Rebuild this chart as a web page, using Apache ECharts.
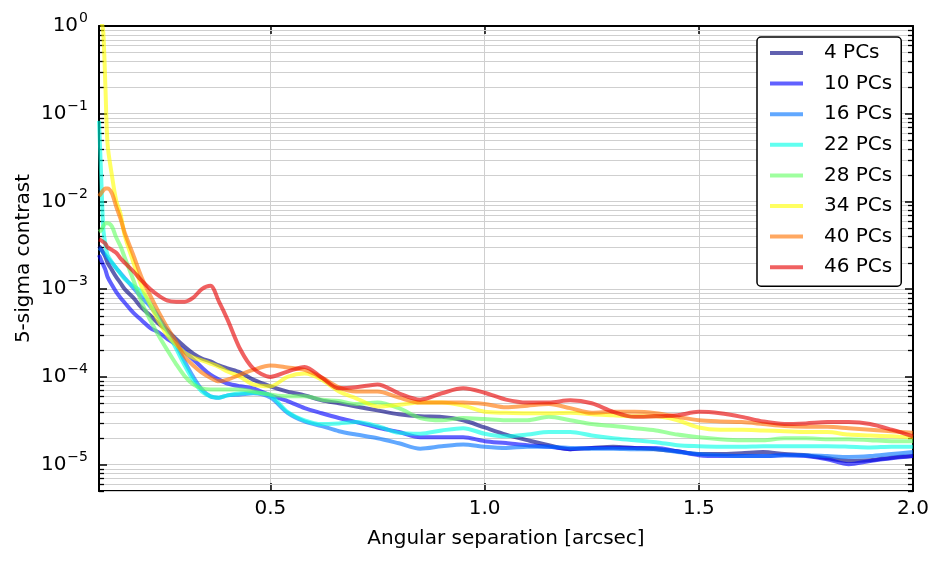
<!DOCTYPE html>
<html>
<head>
<meta charset="utf-8">
<title>5-sigma contrast</title>
<script src="https://cdn.jsdelivr.net/npm/echarts@6.0.0/dist/echarts.min.js"></script>
<style>
  html, body { margin: 0; padding: 0; background: #fff; }
  #chart { width: 946px; height: 566px; }
</style>
</head>
<body>
<div id="chart"></div>
<script>
// angular separation [arcsec]
const sep = [0.1, 0.105, 0.11, 0.115, 0.12, 0.13, 0.14, 0.15, 0.16,
  0.18, 0.2, 0.22, 0.24, 0.26, 0.28, 0.3, 0.32, 0.34, 0.36, 0.38, 0.4,
  0.43, 0.46,
  0.5, 0.54, 0.58, 0.62, 0.66,
  0.7, 0.75, 0.8, 0.85, 0.9, 0.95, 1.0,
  1.05, 1.1, 1.15, 1.2, 1.25, 1.3, 1.35, 1.4, 1.45, 1.5,
  1.55, 1.6, 1.65, 1.7, 1.75, 1.8, 1.85, 1.9, 1.95, 2.0]

const pc4 = [3.1e-3, 2.87e-3, 2.6e-3, 2.33e-3, 2.0e-3, 1.66e-3, 1.38e-3, 1.18e-3, 1.0e-3,
  8.0e-4, 6.1e-4, 5.0e-4, 4.0e-4, 3.36e-4, 2.7e-4, 2.2e-4, 1.84e-4, 1.62e-4, 1.5e-4, 1.35e-4, 1.25e-4,
  1.12e-4, 9.3e-5,
  7.8e-5, 6.8e-5, 6.15e-5, 5.4e-5, 5.0e-5,
  4.6e-5, 4.15e-5, 3.75e-5, 3.55e-5, 3.5e-5, 3.2e-5, 2.65e-5,
  2.2e-5, 1.9e-5, 1.66e-5, 1.5e-5, 1.55e-5, 1.6e-5, 1.55e-5, 1.5e-5, 1.42e-5, 1.32e-5,
  1.32e-5, 1.35e-5, 1.39e-5, 1.32e-5, 1.28e-5, 1.18e-5, 1.1e-5, 1.12e-5, 1.2e-5, 1.25e-5]

const pc10 = [2.45e-3, 2.15e-3, 1.89e-3, 1.66e-3, 1.38e-3, 1.12e-3, 9.3e-4, 8.0e-4, 7.0e-4,
  5.4e-4, 4.4e-4, 3.6e-4, 3.2e-4, 2.7e-4, 2.33e-4, 1.94e-4, 1.58e-4, 1.28e-4, 1.06e-4, 9.3e-5, 8.4e-5,
  7.8e-5, 7.4e-5,
  6.15e-5, 5.3e-5, 4.4e-5, 3.85e-5, 3.4e-5,
  3.05e-5, 2.65e-5, 2.35e-5, 2.05e-5, 2.05e-5, 2.05e-5, 1.85e-5,
  1.76e-5, 1.66e-5, 1.6e-5, 1.5e-5, 1.55e-5, 1.55e-5, 1.55e-5, 1.55e-5, 1.42e-5, 1.28e-5,
  1.25e-5, 1.25e-5, 1.25e-5, 1.28e-5, 1.25e-5, 1.15e-5, 1.01e-5, 1.1e-5, 1.18e-5, 1.25e-5]

const pc16 = [2.95e-3, 2.8e-3, 2.6e-3, 2.45e-3, 2.27e-3, 2.0e-3, 1.74e-3, 1.53e-3, 1.34e-3,
  1.03e-3, 8.0e-4, 6.3e-4, 4.7e-4, 3.36e-4, 2.33e-4, 1.5e-4, 1.0e-4, 7.2e-5, 6.0e-5, 5.8e-5, 6.15e-5,
  6.3e-5, 6.5e-5,
  5.8e-5, 3.9e-5, 3.1e-5, 2.75e-5, 2.4e-5,
  2.2e-5, 2.0e-5, 1.75e-5, 1.52e-5, 1.62e-5, 1.7e-5, 1.6e-5,
  1.55e-5, 1.6e-5, 1.6e-5, 1.55e-5, 1.52e-5, 1.52e-5, 1.5e-5, 1.5e-5, 1.39e-5, 1.32e-5,
  1.28e-5, 1.25e-5, 1.25e-5, 1.28e-5, 1.28e-5, 1.25e-5, 1.22e-5, 1.25e-5, 1.32e-5, 1.39e-5]

const pc22 = [0.083, 0.02, 4.9e-3, 3.2e-3, 2.45e-3, 2.04e-3, 1.74e-3, 1.5e-3, 1.3e-3,
  1.09e-3, 9.3e-4, 6.8e-4, 4.7e-4, 3.2e-4, 2.1e-4, 1.35e-4, 9.1e-5, 6.8e-5, 6.0e-5, 5.8e-5, 6.15e-5,
  6.5e-5, 6.6e-5,
  6.15e-5, 4.0e-5, 3.2e-5, 2.9e-5, 2.95e-5,
  3.05e-5, 2.75e-5, 2.3e-5, 2.25e-5, 2.45e-5, 2.6e-5, 2.25e-5,
  2.1e-5, 2.2e-5, 2.35e-5, 2.35e-5, 2.15e-5, 2.0e-5, 1.9e-5, 1.8e-5, 1.66e-5, 1.62e-5,
  1.6e-5, 1.6e-5, 1.62e-5, 1.62e-5, 1.62e-5, 1.62e-5, 1.6e-5, 1.57e-5, 1.6e-5, 1.6e-5]

const pc28 = [4.5e-3, 4.7e-3, 5.2e-3, 5.65e-3, 5.65e-3, 5.2e-3, 3.9e-3, 3.1e-3, 2.3e-3,
  1.28e-3, 7.0e-4, 4.4e-4, 2.9e-4, 2.0e-4, 1.4e-4, 1.02e-4, 8.2e-5, 7.4e-5, 7.2e-5, 7.2e-5, 7.2e-5,
  7.2e-5, 6.8e-5,
  6.3e-5, 6.0e-5, 6.0e-5, 5.5e-5, 5.3e-5,
  4.9e-5, 5.1e-5, 4.4e-5, 3.4e-5, 3.2e-5, 3.4e-5, 3.3e-5,
  3.2e-5, 3.2e-5, 3.5e-5, 3.2e-5, 2.9e-5, 2.75e-5, 2.6e-5, 2.45e-5, 2.2e-5, 2.05e-5,
  1.95e-5, 1.9e-5, 1.9e-5, 2.0e-5, 2.0e-5, 1.95e-5, 1.95e-5, 1.9e-5, 1.85e-5, 1.85e-5]

const pc34 = [2.0, 1.2, 0.85, 0.2, 0.045, 0.02, 0.0103, 7.3e-3, 4.1e-3,
  2.04e-3, 1.06e-3, 6.6e-4, 4.25e-4, 2.95e-4, 2.33e-4, 1.89e-4, 1.66e-4, 1.54e-4, 1.42e-4, 1.3e-4, 1.15e-4,
  1.0e-4, 8.2e-5,
  7.8e-5, 1.0e-4, 1.09e-4, 9.3e-5, 6.8e-5,
  5.7e-5, 4.6e-5, 4.8e-5, 5.1e-5, 5.1e-5, 4.7e-5, 4.0e-5,
  3.9e-5, 3.85e-5, 3.85e-5, 3.9e-5, 3.75e-5, 3.65e-5, 3.55e-5, 3.55e-5, 3.2e-5, 2.65e-5,
  2.5e-5, 2.5e-5, 2.45e-5, 2.4e-5, 2.35e-5, 2.35e-5, 2.2e-5, 2.15e-5, 2.1e-5, 2.05e-5]

const pc40 = [1.15e-2, 1.24e-2, 1.34e-2, 1.4e-2, 1.4e-2, 1.24e-2, 8.8e-3, 6.4e-3, 4.4e-3,
  2.45e-3, 1.34e-3, 8.4e-4, 5.4e-4, 3.6e-4, 2.5e-4, 1.7e-4, 1.35e-4, 1.12e-4, 9.8e-5, 8.9e-5, 9.3e-5,
  1.06e-4, 1.2e-4,
  1.35e-4, 1.28e-4, 1.2e-4, 9.8e-5, 7.6e-5,
  6.8e-5, 6.8e-5, 5.8e-5, 5.1e-5, 5.1e-5, 5.1e-5, 4.9e-5,
  4.5e-5, 4.7e-5, 4.9e-5, 4.4e-5, 3.9e-5, 4.0e-5, 4.0e-5, 3.85e-5, 3.5e-5, 3.2e-5,
  3.1e-5, 3.05e-5, 2.9e-5, 2.75e-5, 2.7e-5, 2.7e-5, 2.6e-5, 2.5e-5, 2.4e-5, 2.3e-5]

const pc46 = [3.7e-3, 3.6e-3, 3.45e-3, 3.3e-3, 3.0e-3, 2.8e-3, 2.6e-3, 2.25e-3, 2.0e-3,
  1.6e-3, 1.24e-3, 1.0e-3, 8.4e-4, 7.4e-4, 7.2e-4, 7.2e-4, 8.0e-4, 1.0e-3, 1.09e-3, 7.2e-4, 4.5e-4,
  2.05e-4, 1.25e-4,
  1.0e-4, 1.15e-4, 1.3e-4, 9.8e-5, 7.4e-5,
  7.6e-5, 8.2e-5, 6.5e-5, 5.5e-5, 6.5e-5, 7.4e-5, 6.6e-5,
  5.5e-5, 5.1e-5, 5.1e-5, 5.4e-5, 5.0e-5, 4.0e-5, 3.5e-5, 3.55e-5, 3.65e-5, 4.0e-5,
  3.85e-5, 3.5e-5, 3.1e-5, 2.9e-5, 2.95e-5, 3.05e-5, 3.05e-5, 2.9e-5, 2.5e-5, 2.1e-5]

const names = ['4 PCs', '10 PCs', '16 PCs', '22 PCs', '28 PCs', '34 PCs', '40 PCs', '46 PCs']
const curves = [pc4, pc10, pc16, pc22, pc28, pc34, pc40, pc46]
const colors = [
  'rgba(0,0,128,0.62)', 'rgba(0,0,255,0.62)', 'rgba(0,115,255,0.62)', 'rgba(0,255,230,0.62)',
  'rgba(100,255,100,0.62)', 'rgba(255,255,0,0.62)', 'rgba(255,115,0,0.62)', 'rgba(230,0,0,0.62)',
]

const X_MIN = 0.1
const X_MAX = 2.0
const Y_MIN = 5e-6
const Y_MAX = 1

const FONT = 'DejaVu Sans'
const GRID_COLOR = '#cfcfcf'

// minor log gridlines 2..9 x 10^k inside the y range
const minorVals = []
for (let e = -6; e <= -1; e++) {
  for (let k = 2; k <= 9; k++) {
    const v = parseFloat(k + 'e' + e)
    if (v >= Y_MIN && v < Y_MAX) minorVals.push(v)
  }
}

function fmtLog(v) {
  const l = Math.log10(v)
  const e = Math.round(l)
  if (Math.abs(l - e) > 1e-6) return ''
  return '{b|10}{s|' + (e === 0 ? '0' : '\u2212' + (-e)) + '}'
}

const frame = { show: true, onZero: false, lineStyle: { color: '#000', width: 2 } }
const majorTick = { show: true, inside: true, length: 8, lineStyle: { color: '#000', width: 1.5 } }

const chart = echarts.init(document.getElementById('chart'))

chart.setOption({
  animation: false,
  backgroundColor: '#fff',
  textStyle: { fontFamily: FONT },
  grid: { left: 99, right: 33, top: 26, bottom: 75 },
  xAxis: [
    {
      type: 'value', min: X_MIN, max: X_MAX, splitNumber: 4,
      name: 'Angular separation [arcsec]', nameLocation: 'middle', nameGap: 38,
      nameTextStyle: { fontFamily: FONT, fontSize: 20, color: '#000' },
      axisLine: frame, axisTick: majorTick,
      axisLabel: {
        fontFamily: FONT, fontSize: 20, color: '#000', margin: 8,
        formatter: (v) => (Math.abs(v - X_MIN) < 1e-9 ? '' : v.toFixed(1)),
      },
      splitLine: { show: true, lineStyle: { color: GRID_COLOR, width: 1 } },
    },
    {
      type: 'value', min: X_MIN, max: X_MAX, splitNumber: 4, position: 'top',
      axisLine: frame, axisTick: majorTick,
      axisLabel: { show: false }, splitLine: { show: false },
    },
  ],
  yAxis: [
    {
      type: 'log', logBase: 10, min: Y_MIN, max: Y_MAX,
      name: '5-sigma contrast', nameLocation: 'middle', nameGap: 65, nameMoveOverlap: false,
      nameTextStyle: { fontFamily: FONT, fontSize: 20, color: '#000' },
      axisLine: frame, axisTick: majorTick,
      axisLabel: {
        margin: 11, formatter: fmtLog,
        rich: {
          b: { fontFamily: FONT, fontSize: 20, color: '#000' },
          s: { fontFamily: FONT, fontSize: 14, color: '#000', padding: [0, 0, 15, 1] },
        },
      },
      splitLine: { show: true, lineStyle: { color: GRID_COLOR, width: 1 } },
    },
    {
      type: 'log', logBase: 10, min: Y_MIN, max: Y_MAX, position: 'right',
      axisLine: frame, axisTick: majorTick,
      axisLabel: { show: false }, splitLine: { show: false },
    },
  ],
  legend: {
    data: names, orient: 'vertical', left: 757, top: 37,
    backgroundColor: '#fff', borderColor: '#000', borderWidth: 1.5, borderRadius: 4,
    padding: [6, 9, 9, 13], itemWidth: 33, itemHeight: 4, itemGap: 10.6, icon: 'rect',
    textStyle: { fontFamily: FONT, fontSize: 20, color: '#000', lineHeight: 20, padding: [0, 0, 0, 16] },
  },
  series: [
    {
      type: 'custom', name: 'minor', silent: true, z: 1,
      xAxisIndex: 0, yAxisIndex: 0,
      data: minorVals.map((v) => [X_MIN, v]),
      renderItem: (params, api) => {
        const pt = api.coord([api.value(0), api.value(1)])
        const cs = params.coordSys
        const y = Math.round(pt[1]) + 0.5
        return {
          type: 'group',
          children: [
            { type: 'line', shape: { x1: cs.x, y1: y, x2: cs.x + cs.width, y2: y }, style: { stroke: GRID_COLOR, lineWidth: 1 } },
            { type: 'line', shape: { x1: cs.x, y1: y, x2: cs.x + 5, y2: y }, style: { stroke: '#000', lineWidth: 1.3 } },
            { type: 'line', shape: { x1: cs.x + cs.width - 5, y1: y, x2: cs.x + cs.width, y2: y }, style: { stroke: '#000', lineWidth: 1.3 } },
          ],
        }
      },
    },
    ...curves.map((vals, i) => ({
      type: 'line',
      name: names[i],
      xAxisIndex: 0, yAxisIndex: 0,
      data: sep.map((x, j) => [x, vals[j]]),
      showSymbol: false,
      smooth: 0.3,
      clip: true,
      color: colors[i],
      lineStyle: { color: colors[i], width: 4 },
      emphasis: { disabled: true },
    })),
  ],
})
</script>
</body>
</html>
